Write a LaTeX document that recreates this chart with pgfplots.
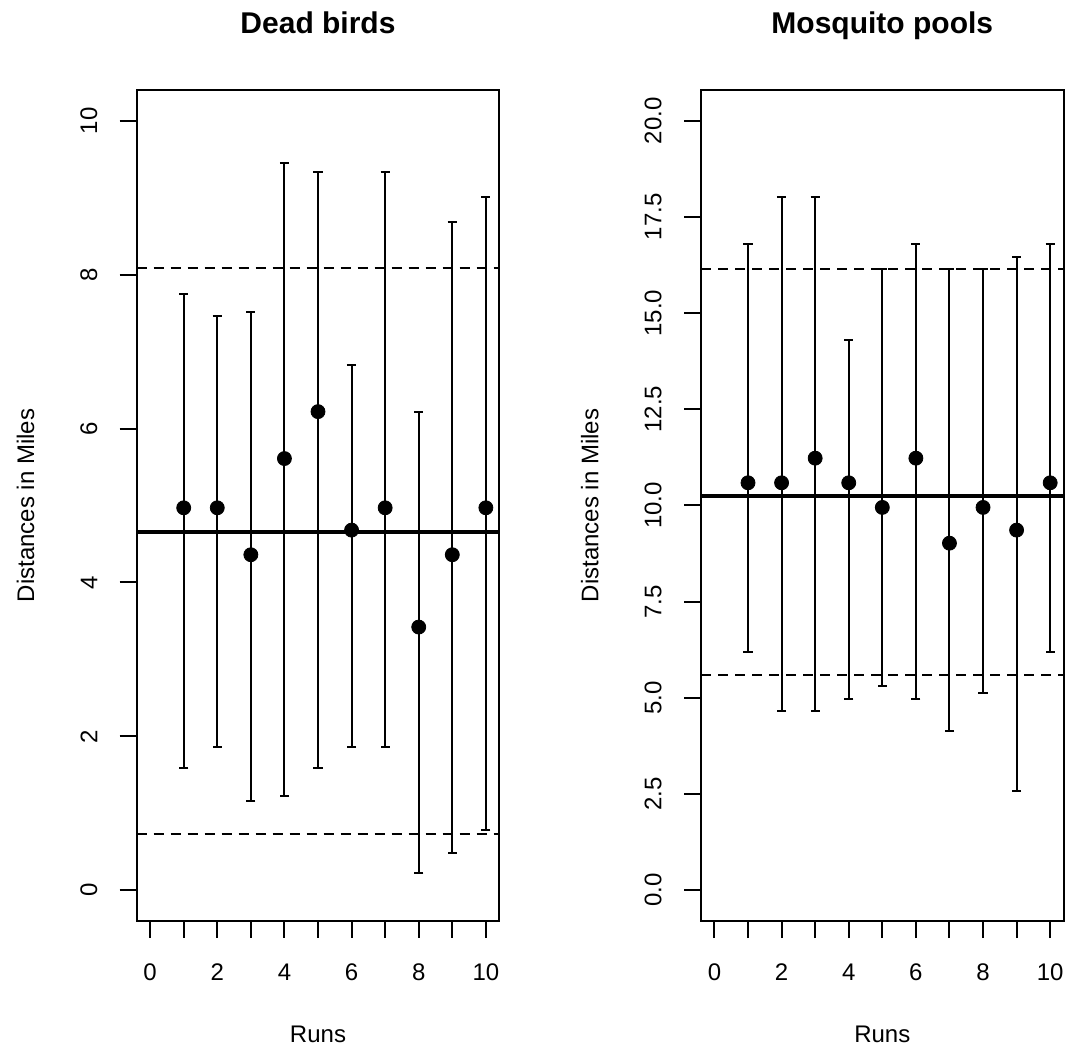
\documentclass[border=0pt]{standalone}
\usepackage{fontspec}
\setmainfont{Liberation Sans}
\usepackage{pgfplots}
\pgfplotsset{compat=1.18}
\usepackage{pgfplotstable}

\pgfplotstableread{
x y up lo
1 4.97 7.75 1.59
2 4.97 7.46 1.86
3 4.36 7.52 1.16
4 5.61 9.45 1.22
5 6.22 9.33 1.59
6 4.68 6.82 1.86
7 4.97 9.33 1.86
8 3.42 6.21 0.225
9 4.36 8.69 0.48
10 4.97 9.01 0.78
}\birds

\pgfplotstableread{
x y up lo
1 10.59 16.80 6.19
2 10.59 18.02 4.66
3 11.23 18.02 4.66
4 10.59 14.30 4.96
5 9.95 16.16 5.31
6 11.23 16.80 4.96
7 9.02 16.16 4.14
8 9.95 16.16 5.13
9 9.36 16.45 2.57
10 10.59 16.80 6.19
}\pools

\pgfplotsset{
  rstyle/.style={
    scale only axis, width=181.3pt, height=415.5pt,
    xmin=-0.4, xmax=10.4,
    axis line style={line width=1pt},
    every tick/.style={black, line width=1pt},
    tick align=outside, major tick length=8.5pt,
    tick pos=left,
    xtick={0,...,10}, xticklabels={0,,2,,4,,6,,8,,10},
    /pgf/number format/assume math mode=true,
    ticklabel style={font=\fontsize{12}{14}\selectfont},
    yticklabel style={rotate=90, anchor=south, inner sep=0pt},
    xticklabel style={anchor=base, inner sep=0pt},
    xticklabel shift=21pt, yticklabel shift=11pt,
    every axis title/.style={at={(axis description cs:0.5,1)}, anchor=base, yshift=28pt, inner sep=0pt, font=\fontsize{15}{18}\selectfont\bfseries},
    every axis x label/.style={at={([yshift=-60.5pt]axis description cs:0.5,0)}, anchor=base, inner sep=0pt, font=\fontsize{12}{14}\selectfont},
    every axis y label/.style={at={([xshift=-51pt]axis description cs:0,0.5)}, rotate=90, anchor=south, inner sep=0pt, font=\fontsize{12}{14}\selectfont},
    xlabel={Runs}, ylabel={Distances in Miles},
  },
  ebar/.style={only marks, mark=*, mark size=3.5pt, black,
    error bars/.cd, y dir=both, y explicit,
    error bar style={line width=1pt, black},
    error mark options={rotate=90, line width=1pt, mark size=2.3pt, black}},
}

\begin{document}
\begin{tikzpicture}
\path[use as bounding box] (0,0) rectangle (534.5pt,523.5pt);
\begin{axis}[rstyle, at={(68.35pt,63pt)}, anchor=south west,
  title={Dead birds},
  ymin=-0.4, ymax=10.4, ytick={0,2,...,10}]
\addplot[ebar] table[x=x, y=y, y error plus expr=\thisrow{up}-\thisrow{y}, y error minus expr=\thisrow{y}-\thisrow{lo}] {\birds};
\addplot[black, line width=2pt] coordinates {(-0.4,4.65) (10.4,4.65)};
\addplot[black, line width=1pt, dash pattern=on 5pt off 3.5pt] coordinates {(-0.4,8.08) (10.4,8.08)};
\addplot[black, line width=1pt, dash pattern=on 5pt off 3.5pt] coordinates {(-0.4,0.725) (10.4,0.725)};
\end{axis}
\begin{axis}[rstyle, at={(350.5pt,63pt)}, anchor=south west,
  title={Mosquito pools},
  ymin=-0.8, ymax=20.8, ytick={0,2.5,...,20},
  yticklabel style={/pgf/number format/.cd, fixed, fixed zerofill, precision=1}]
\addplot[ebar] table[x=x, y=y, y error plus expr=\thisrow{up}-\thisrow{y}, y error minus expr=\thisrow{y}-\thisrow{lo}] {\pools};
\addplot[black, line width=2pt] coordinates {(-0.4,10.25) (10.4,10.25)};
\addplot[black, line width=1pt, dash pattern=on 5pt off 3.5pt] coordinates {(-0.4,16.16) (10.4,16.16)};
\addplot[black, line width=1pt, dash pattern=on 5pt off 3.5pt] coordinates {(-0.4,5.60) (10.4,5.60)};
\end{axis}
\end{tikzpicture}
\end{document}
